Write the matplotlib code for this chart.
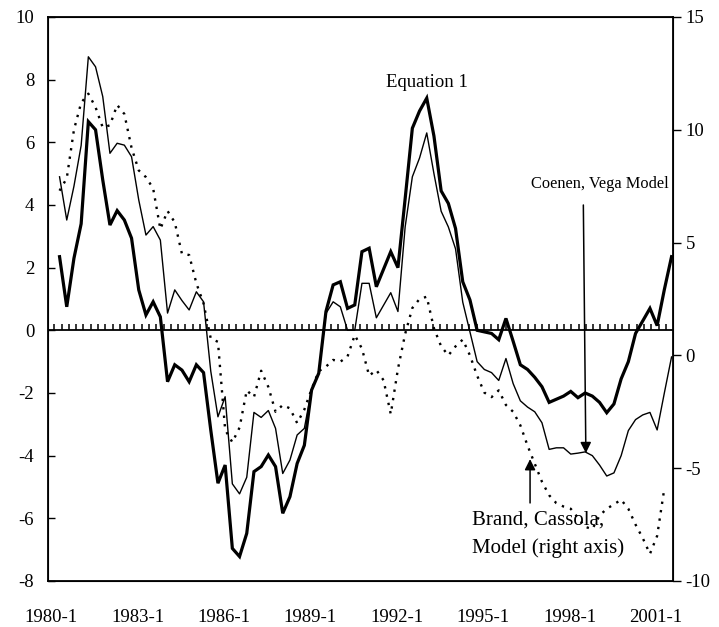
import numpy as np
import matplotlib
matplotlib.use("Agg")
import matplotlib.pyplot as plt

plt.rcParams['font.family'] = ['Liberation Serif', 'DejaVu Serif']
plt.rcParams['axes.unicode_minus'] = False

# quarterly index 1980-1 ... 2001-2
quarters = [f"{y}-{q}" for y in range(1980, 2002) for q in range(1, 5)][:86]

# Equation 1 (thick line, left axis)
equation1 = [2.35, 0.75, 2.3, 3.4, 6.66, 6.4, 4.8, 3.36, 3.82, 3.52,
             2.94, 1.29, 0.49, 0.91, 0.43, -1.64, -1.1, -1.27, -1.64, -1.1,
             -1.35, -3.18, -4.88, -4.3, -6.96, -7.22, -6.48, -4.51, -4.35, -3.98,
             -4.35, -5.84, -5.31, -4.25, -3.67, -1.91, -1.37, 0.6, 1.45, 1.55,
             0.7, 0.81, 2.51, 2.62, 1.39, 1.95, 2.51, 2.0, 4.2, 6.45,
             7.0, 7.41, 6.2, 4.45, 4.05, 3.25, 1.55, 0.97, 0.0, -0.05,
             -0.1, -0.3, 0.38, -0.35, -1.1, -1.25, -1.5, -1.8, -2.3, -2.2,
             -2.1, -1.95, -2.15, -2.0, -2.1, -2.3, -2.63, -2.35, -1.55, -1.0,
             -0.1, 0.3, 0.7, 0.15, 1.3, 2.35]

# Coenen, Vega model (thin line, left axis)
coenen_vega = [4.9, 3.52, 4.6, 5.9, 8.73, 8.41, 7.46, 5.65, 5.97, 5.91,
               5.54, 4.16, 3.04, 3.31, 2.88, 0.55, 1.29, 0.95, 0.65, 1.23,
               0.91, -1.3, -2.76, -2.12, -4.9, -5.22, -4.69, -2.62, -2.78, -2.56,
               -3.13, -4.57, -4.14, -3.34, -3.13, -1.9, -1.37, 0.54, 0.91, 0.75,
               0.0, 0.0, 1.5, 1.5, 0.4, 0.8, 1.2, 0.6, 3.3, 4.9,
               5.5, 6.3, 5.0, 3.8, 3.3, 2.6, 0.9, -0.05, -1.0, -1.25,
               -1.35, -1.6, -0.9, -1.7, -2.25, -2.45, -2.6, -2.95, -3.8, -3.75,
               -3.75, -3.95, -3.92, -3.88, -4.0, -4.3, -4.65, -4.55, -4.0, -3.2,
               -2.85, -2.7, -2.62, -3.18, -2.0, -0.85]

# Brand, Cassola model (dotted line, right axis)
brand_cassola = [7.3, 7.85, 10.0, 11.2, 11.6, 11.0, 10.1, 10.2, 11.1, 10.7,
                 9.2, 8.2, 7.9, 7.4, 5.6, 6.4, 5.9, 4.5, 4.45, 3.2,
                 2.3, 0.75, 0.6, -3.3, -3.85, -3.2, -1.55, -1.85, -0.68, -1.4,
                 -2.5, -2.2, -2.35, -3.0, -2.4, -1.5, -0.7, -0.5, -0.2, -0.28,
                 -0.05, 0.9, 0.3, -0.9, -0.65, -1.1, -2.6, -0.6, 0.95, 2.1,
                 2.5, 2.6, 1.2, 0.4, 0.0, 0.4, 0.7, 0.0, -0.9, -1.65,
                 -1.85, -1.55, -2.2, -2.5, -3.1, -4.0, -4.8, -5.6, -6.2, -6.55,
                 -6.7, -6.8, -7.2, -7.6, -7.7, -7.1, -6.8, -6.6, -6.4, -6.8,
                 -7.5, -8.1, -8.8, -8.0, -5.9, np.nan]

tick_labels = ['1980-1', '1983-1', '1986-1', '1989-1', '1992-1',
               '1995-1', '1998-1', '2001-1']

x = np.arange(len(quarters))

fig = plt.figure(figsize=(7.19, 6.27), dpi=100)
ax = fig.add_axes([0.0668, 0.0734, 0.8692, 0.8995])

ax.plot(x, equation1, color='black', lw=2.3, solid_joinstyle='miter')
ax.plot(x, coenen_vega, color='black', lw=1.0)

ax.set_xlim(-1.6, 85.2)
ax.set_ylim(-8, 10)
ax.set_yticks(range(-8, 11, 2))
ax.tick_params(axis='y', direction='in', length=5, width=1, pad=10,
               labelsize=13.5)

# category labels below the plot, no ticks there
ax.set_xticks([12 * k - 1.17 for k in range(len(tick_labels))])
ax.set_xticklabels(tick_labels)
ax.tick_params(axis='x', length=0, pad=20, labelsize=13.5)

# zero line with small quarterly ticks
ax.axhline(0, color='black', lw=1.3)
zero_ticks = np.arange(-0.72, 85.0, 7.28 / 7.2)
ax.vlines(zero_ticks, 0, 0.19, color='black', lw=1.1)

for s in ax.spines.values():
    s.set_linewidth(1.3)

ax2 = ax.twinx()
ax2.plot(x, brand_cassola, color='black', lw=1.7, linestyle=(0, (1, 2.6)))
ax2.set_ylim(-10, 15)
ax2.set_yticks(range(-10, 16, 5))
ax2.tick_params(axis='y', direction='out', length=6, width=1, pad=3,
                labelsize=13.5)

# annotations
ax.text(51.0, 7.92, 'Equation 1', ha='center', va='center', fontsize=13.5)
ax.text(75.1, 4.67, 'Coenen, Vega Model', ha='center', va='center',
        fontsize=11.8)
ax.annotate('', xy=(73.1, -3.92), xytext=(72.75, 4.0),
            arrowprops=dict(arrowstyle='-|>', color='black', lw=1.1,
                            mutation_scale=16, shrinkA=0, shrinkB=0))
ax.text(57.25, -6.05, 'Brand, Cassola,', ha='left', va='center',
        fontsize=15)
ax.text(57.25, -6.95, 'Model (right axis)', ha='left', va='center',
        fontsize=15)
ax.annotate('', xy=(65.35, -4.11), xytext=(65.35, -5.51),
            arrowprops=dict(arrowstyle='-|>', color='black', lw=1.1,
                            mutation_scale=16, shrinkA=0, shrinkB=0))

fig.savefig('out.png', dpi=100)
